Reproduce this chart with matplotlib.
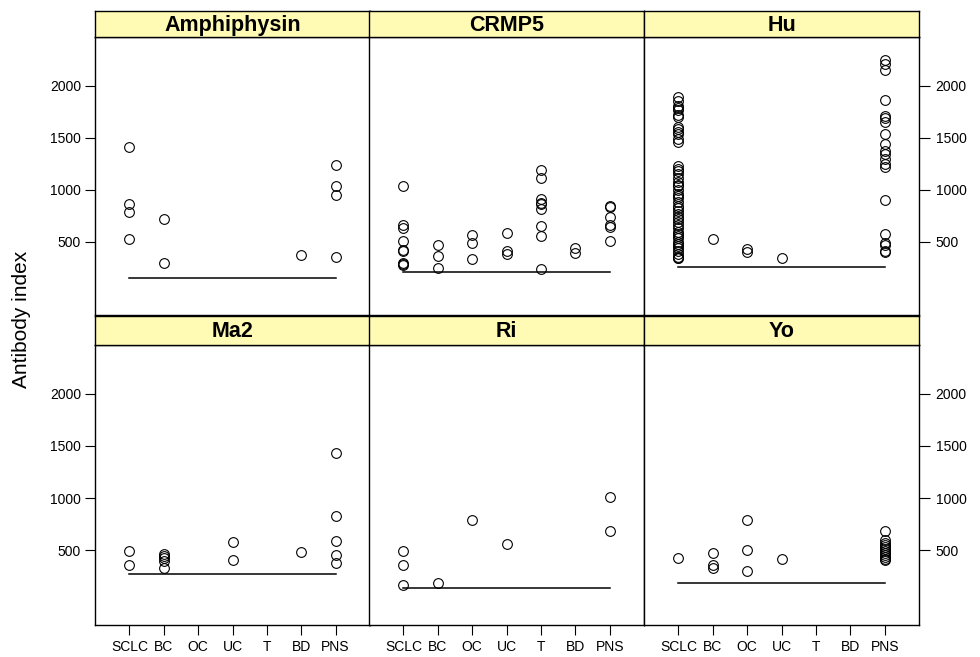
import matplotlib
matplotlib.use("Agg")
import matplotlib.pyplot as plt

plt.rcParams['font.family'] = ['Liberation Sans', 'DejaVu Sans']

categories = ["SCLC", "BC", "OC", "UC", "T", "BD", "PNS"]
panel_names = ["Amphiphysin", "CRMP5", "Hu", "Ma2", "Ri", "Yo"]
y_ticks = [500, 1000, 1500, 2000]

amphiphysin = {"SCLC": [1413, 862, 785, 529], "BC": [721, 295], "BD": [372],
               "PNS": [1240, 1042, 952, 356]}
crmp5 = {"SCLC": [1038, 665, 635, 505, 425, 410, 300, 285, 275],
         "BC": [468, 362, 253], "OC": [564, 487, 336], "UC": [590, 410, 388],
         "T": [1192, 1118, 917, 879, 865, 814, 657, 554, 244],
         "BD": [439, 397], "PNS": [843, 833, 737, 663, 647, 513]}
hu = {"SCLC": [1890, 1860, 1810, 1790, 1770, 1720, 1700, 1610, 1590, 1560, 1540,
               1490, 1460, 1230, 1200, 1180, 1150, 1120, 1080, 1050, 1040, 1000,
               960, 940, 920, 880, 850, 830, 800, 770, 740, 720, 690, 660, 630,
               600, 580, 560, 540, 500, 480, 460, 440, 410, 380, 360, 350, 345],
      "BC": [529], "OC": [433, 401], "UC": [346],
      "PNS": [2250, 2211, 2154, 1865, 1711, 1689, 1657, 1535, 1439, 1378, 1346,
              1298, 1250, 1218, 904, 577, 487, 468, 416, 401]}
ma2 = {"SCLC": [488, 352], "BC": [465, 440, 420, 395, 330], "UC": [575, 404],
       "BD": [481], "PNS": [1436, 829, 585, 449, 372]}
ri = {"SCLC": [491, 358, 168], "BC": [178], "OC": [788], "UC": [555],
      "PNS": [1007, 684]}
yo = {"SCLC": [420], "BC": [468, 355, 323], "OC": [788, 500, 297], "UC": [417],
      "PNS": [678, 600, 570, 550, 530, 510, 490, 470, 450, 430, 415, 405]}
panel_data = [amphiphysin, crmp5, hu, ma2, ri, yo]
cutoffs = [151, 214, 262, 271, 136, 178]

W, H = 980, 657
fig = plt.figure(figsize=(W / 100, H / 100), dpi=100)

col_left = [95, 369, 644]
col_w = 275
rows = [(11, 37, 315), (316, 345, 625)]  # strip top, panel top, panel bottom
ylims = [(-202, 2471), (-221, 2471)]
strip_color = "#FFFBB5"

def fx(px):
    return px / W

def fy(py):
    return 1 - py / H

for i, name in enumerate(panel_names):
    r, c = divmod(i, 3)
    st, pt, pb = rows[r]
    left = col_left[c]
    ax = fig.add_axes([fx(left), fy(pb), fx(col_w), (pb - pt) / H])
    sax = fig.add_axes([fx(left), fy(pt), fx(col_w), (pt - st) / H])
    sax.set_facecolor(strip_color)
    sax.set_xticks([]); sax.set_yticks([])
    for sp in sax.spines.values():
        sp.set_linewidth(1.0)
    sax.text(0.5, 0.45, name, ha="center", va="center", fontsize=15.5,
             fontweight="bold", transform=sax.transAxes)

    data = panel_data[i]
    for j, cat in enumerate(categories):
        vals = data.get(cat, [])
        ax.plot([j + 1] * len(vals), vals, linestyle="none", marker="o",
                markersize=7.0, markerfacecolor="none", markeredgecolor="black",
                markeredgewidth=0.8)
    ax.plot([1, len(categories)], [cutoffs[i], cutoffs[i]], color="black", lw=1.1)

    ax.set_xlim(0, 8)
    ax.set_ylim(*ylims[r])
    for sp in ax.spines.values():
        sp.set_linewidth(1.0)

    ax.set_xticks(range(1, len(categories) + 1))
    if r == 1:
        ax.set_xticklabels(categories, fontsize=10)
        ax.tick_params(axis="x", direction="out", length=7, width=0.8, pad=4)
    else:
        ax.tick_params(axis="x", length=0, labelbottom=False)

    ax.set_yticks(y_ticks)
    ax.set_yticklabels([str(t) for t in y_ticks], fontsize=10)
    if c == 0:
        ax.tick_params(axis="y", direction="out", length=7, width=0.8, pad=3,
                       left=True, labelleft=True, right=False, labelright=False)
    elif c == 2:
        ax.tick_params(axis="y", direction="out", length=8, width=0.8, pad=4,
                       left=False, labelleft=False, right=True, labelright=True)
    else:
        ax.tick_params(axis="y", length=0, labelleft=False)

fig.text(fx(22), fy(319), "Antibody index", rotation=90, ha="center", va="center",
         fontsize=15)

fig.savefig("out.png", dpi=100)
